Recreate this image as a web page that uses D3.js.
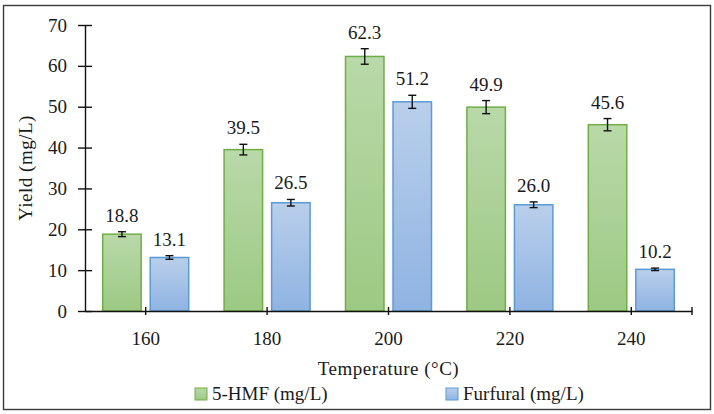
<!DOCTYPE html>
<html>
<head>
<meta charset="utf-8">
<script src="https://cdn.jsdelivr.net/npm/d3@7"></script>
<style>
  body { margin: 0; background: #fff; }
  text { font-family: "Liberation Serif", "Times New Roman", serif; fill: #1a1a1a; }
</style>
</head>
<body>
<div id="chart"></div>
<script>
// data
const temps = ['160', '180', '200', '220', '240']
const seriesNames = ['5-HMF (mg/L)', 'Furfural (mg/L)']
const hmf = [18.8, 39.5, 62.3, 49.9, 45.6]
const furfural = [13.1, 26.5, 51.2, 26.0, 10.2]
const hmfErr = [0.6, 1.3, 1.9, 1.6, 1.5]
const furfuralErr = [0.45, 0.8, 1.6, 0.7, 0.3]
const yTicks = [0, 10, 20, 30, 40, 50, 60, 70]

const width = 714, height = 414
const plotL = 85, plotR = 692, plotT = 25, plotB = 311

const svg = d3.select('#chart').append('svg')
  .attr('width', width)
  .attr('height', height)

// gradients for the bars
const defs = svg.append('defs')
const grads = [
  { id: 'gGreen', top: '#b9d9a9', bot: '#9cc983', stroke: '#70ad47' },
  { id: 'gBlue', top: '#b9cfeb', bot: '#8fb3e2', stroke: '#5b9bd5' }
]
grads.forEach(g => {
  const lg = defs.append('linearGradient').attr('id', g.id)
    .attr('x1', 0).attr('y1', 0).attr('x2', 0).attr('y2', 1)
  lg.append('stop').attr('offset', '0%').attr('stop-color', g.top)
  lg.append('stop').attr('offset', '100%').attr('stop-color', g.bot)
})

// outer frame
svg.append('rect')
  .attr('x', 3.5).attr('y', 5.5)
  .attr('width', 707).attr('height', 404)
  .attr('fill', 'none')
  .attr('stroke', '#3a3a3a')
  .attr('stroke-width', 1.4)

const x = d3.scaleBand().domain(temps).range([plotL, plotR]).padding(0)
const bw = x.bandwidth()
const x1 = d3.scaleBand().domain(seriesNames)
  .range([bw / 2 - 43, bw / 2 + 43])
  .paddingInner(0.19)
const y = d3.scaleLinear().domain([0, 70]).range([plotB, plotT])

const rows = temps.map((t, i) => ({
  t: t,
  vals: [
    { s: seriesNames[0], v: hmf[i], e: hmfErr[i], k: 0 },
    { s: seriesNames[1], v: furfural[i], e: furfuralErr[i], k: 1 }
  ]
}))

const groups = svg.selectAll('g.grp')
  .data(rows)
  .enter()
  .append('g')
  .attr('class', 'grp')
  .attr('transform', d => `translate(${x(d.t)},0)`)

const bars = groups.selectAll('g.bar')
  .data(d => d.vals)
  .enter()
  .append('g')
  .attr('class', 'bar')

bars.append('rect')
  .attr('x', d => x1(d.s))
  .attr('y', d => y(d.v))
  .attr('width', x1.bandwidth())
  .attr('height', d => y(0) - y(d.v))
  .attr('fill', d => `url(#${grads[d.k].id})`)
  .attr('stroke', d => grads[d.k].stroke)
  .attr('stroke-width', 1.5)

// error bars
const cx = d => x1(d.s) + x1.bandwidth() / 2
bars.append('line')
  .attr('x1', cx).attr('x2', cx)
  .attr('y1', d => y(d.v + d.e)).attr('y2', d => y(d.v - d.e))
  .attr('stroke', '#111').attr('stroke-width', 1.4)
bars.append('line')
  .attr('x1', d => cx(d) - 4).attr('x2', d => cx(d) + 4)
  .attr('y1', d => y(d.v + d.e)).attr('y2', d => y(d.v + d.e))
  .attr('stroke', '#111').attr('stroke-width', 1.4)
bars.append('line')
  .attr('x1', d => cx(d) - 4).attr('x2', d => cx(d) + 4)
  .attr('y1', d => y(d.v - d.e)).attr('y2', d => y(d.v - d.e))
  .attr('stroke', '#111').attr('stroke-width', 1.4)

// value labels
bars.append('text')
  .attr('x', cx)
  .attr('y', d => y(d.v + d.e) - 10)
  .attr('text-anchor', 'middle')
  .style('font-size', '19px')
  .text(d => d.v.toFixed(1))

// y axis
const yAxis = d3.axisLeft(y).tickValues(yTicks).tickSize(7).tickPadding(11).tickSizeOuter(0)
const gy = svg.append('g')
  .attr('transform', `translate(${plotL},0)`)
  .call(yAxis)
gy.selectAll('.tick line').attr('x1', 7).attr('stroke', '#111').attr('stroke-width', 1.4)
gy.select('.domain').attr('stroke', '#111').attr('stroke-width', 1.4)
gy.selectAll('.tick text').style('font-size', '19px').attr('fill', '#1a1a1a')

// x axis
const xAxis = d3.axisBottom(x).tickSize(4).tickPadding(17).tickSizeOuter(0)
const gx = svg.append('g')
  .attr('transform', `translate(0,${plotB})`)
  .call(xAxis)
gx.selectAll('.tick line').attr('y1', -4).attr('stroke', '#111').attr('stroke-width', 1.4)
gx.select('.domain').attr('stroke', '#111').attr('stroke-width', 1.4)
gx.selectAll('.tick text').style('font-size', '19px').attr('fill', '#1a1a1a')
gx.append('line')
  .attr('x1', x.range()[1]).attr('x2', x.range()[1])
  .attr('y1', -4).attr('y2', 4)
  .attr('stroke', '#111').attr('stroke-width', 1.4)

// axis titles
svg.append('text')
  .attr('x', (plotL + plotR) / 2)
  .attr('y', 375)
  .attr('text-anchor', 'middle')
  .style('font-size', '19px')
  .style('letter-spacing', '0.5px')
  .text('Temperature (°C)')

svg.append('text')
  .attr('transform', `translate(32,${(plotT + plotB) / 2}) rotate(-90)`)
  .attr('text-anchor', 'middle')
  .style('font-size', '19px')
  .style('letter-spacing', '0.5px')
  .text('Yield (mg/L)')

// legend
const legX = [195, 446]
const leg = svg.selectAll('g.leg')
  .data(seriesNames)
  .enter()
  .append('g')
  .attr('class', 'leg')
  .attr('transform', (d, i) => `translate(${legX[i]},388)`)
leg.append('rect')
  .attr('width', 12).attr('height', 12)
  .attr('fill', (d, i) => `url(#${grads[i].id})`)
  .attr('stroke', (d, i) => grads[i].stroke)
  .attr('stroke-width', 1)
leg.append('text')
  .attr('x', 17).attr('y', 12)
  .style('font-size', '19px')
  .text(d => d)
</script>
</body>
</html>
